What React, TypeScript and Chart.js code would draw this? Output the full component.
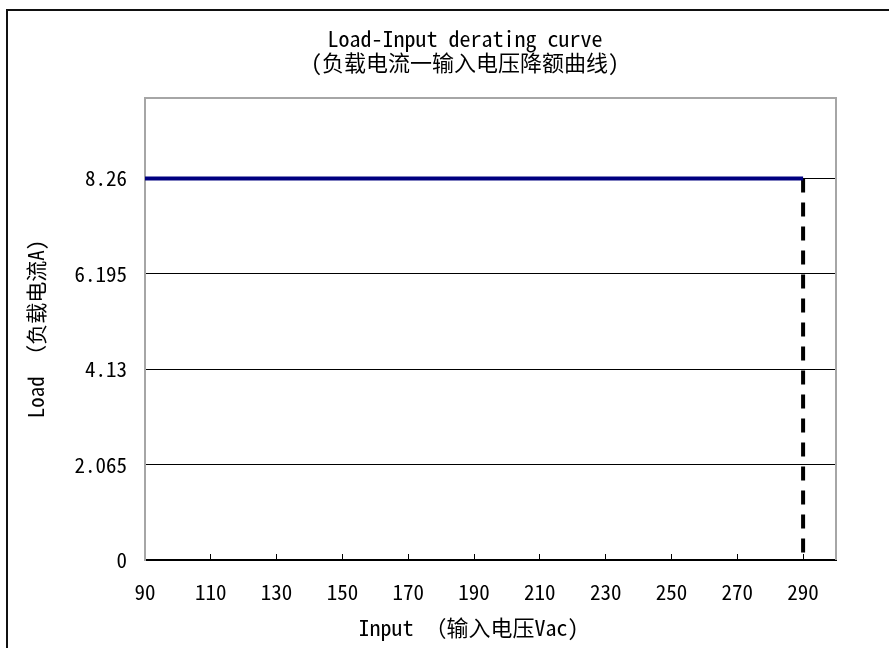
import { useEffect, useRef } from "react";
import { Chart, registerables } from "chart.js";

Chart.register(...registerables);

// ---- data ----
const inputVoltage = [90, 290];
const loadCurrent = [8.26, 8.26];
const cutoffVoltage = [290, 290];
const cutoffLoad = [8.26, 0];
const xTickValues = [90, 110, 130, 150, 170, 190, 210, 230, 250, 270, 290];
const yTickValues = [0, 2.065, 4.13, 6.195, 8.26];
const yTickLabels = ["0", "2.065", "4.13", "6.195", "8.26"];
const titleLines = ["Load-Input derating curve", "(负载电流一输入电压降额曲线)"];
const xTitle = "Input （输入电压Vac)    ";
const yTitle = "Load （负载电流A)";

const FONT = "'Noto Sans Mono CJK SC', 'Noto Sans CJK SC', monospace";
const W = 930;
const H = 680;

const framePlugin = {
  id: "frame",
  beforeDraw(chart: any) {
    const ctx = chart.ctx;
    ctx.save();
    ctx.fillStyle = "#ffffff";
    ctx.fillRect(0, 0, chart.width, chart.height);
    ctx.strokeStyle = "#111111";
    ctx.lineWidth = 2;
    ctx.strokeRect(7, 10, chart.width + 20, chart.height + 20);
    ctx.restore();
  },
  afterDatasetsDraw(chart: any) {
    const { ctx, chartArea } = chart;
    ctx.save();
    ctx.strokeStyle = "#a6a6a6";
    ctx.lineWidth = 2;
    ctx.beginPath();
    ctx.moveTo(chartArea.left, chartArea.top);
    ctx.lineTo(chartArea.right, chartArea.top);
    ctx.lineTo(chartArea.right, chartArea.bottom);
    ctx.stroke();
    ctx.restore();
  },
};

export default function App() {
  const ref = useRef<HTMLCanvasElement | null>(null);
  useEffect(() => {
    if (!ref.current) return;
    const chart = new Chart(ref.current, {
      type: "line",
      data: {
        datasets: [
          {
            data: inputVoltage.map((x, i) => ({ x, y: loadCurrent[i] })),
            borderColor: "#000080",
            borderWidth: 4,
            pointRadius: 0,
            yAxisID: "y",
          },
          {
            data: cutoffVoltage.map((x, i) => ({ x, y: cutoffLoad[i] })),
            borderColor: "#000000",
            borderWidth: 4,
            borderDash: [14, 10],
            pointRadius: 0,
            yAxisID: "y",
          },
        ],
      },
      options: {
        responsive: false,
        animation: false,
        devicePixelRatio: 1,
        layout: { padding: 0 },
        plugins: {
          legend: { display: false },
          tooltip: { enabled: false },
          title: {
            display: true,
            text: titleLines,
            color: "#000",
            font: { family: FONT, size: 22, weight: "normal", lineHeight: "24px" },
            padding: { top: 27, bottom: 23 },
          },
        },
        scales: {
          x: {
            type: "linear",
            min: 90,
            max: 300,
            afterBuildTicks: (s: any) => {
              s.ticks = xTickValues.map((v) => ({ value: v }));
            },
            afterFit: (s: any) => {
              s.height = 120;
            },
            ticks: {
              color: "#000",
              font: { family: FONT, size: 21 },
              padding: 25,
              maxRotation: 0,
              autoSkip: false,
            },
            grid: {
              drawOnChartArea: false,
              drawTicks: true,
              tickLength: -6,
              color: "#000",
              lineWidth: 1,
            },
            border: { color: "#000", width: 2 },
            title: {
              display: true,
              text: xTitle,
              color: "#000",
              font: { family: FONT, size: 22, lineHeight: "22px" },
              padding: { top: 0, bottom: 41 },
            },
          },
          y: {
            type: "linear",
            position: "left",
            min: 0,
            max: 10,
            afterBuildTicks: (s: any) => {
              s.ticks = yTickValues.map((v) => ({ value: v }));
            },
            afterFit: (s: any) => {
              s.width = 145;
            },
            ticks: {
              color: "#000",
              font: { family: FONT, size: 21 },
              padding: 18,
              autoSkip: false,
              callback: (v: any) => {
                const i = yTickValues.indexOf(Number(v));
                return i >= 0 ? yTickLabels[i] : "";
              },
            },
            grid: {
              drawTicks: false,
              color: "#000",
              lineWidth: 1,
            },
            border: { color: "#a6a6a6", width: 2 },
            title: {
              display: true,
              text: yTitle,
              color: "#000",
              font: { family: FONT, size: 21, lineHeight: "22px" },
              padding: { top: 25, bottom: 0 },
            },
          },
          yRight: {
            type: "linear",
            position: "right",
            min: 0,
            max: 1,
            afterFit: (s: any) => {
              s.width = 94;
            },
            ticks: { display: false },
            grid: { display: false, drawTicks: false },
            border: { display: false },
          },
        },
      },
      plugins: [framePlugin],
    } as any);
    return () => chart.destroy();
  }, []);
  return (
    <div
      style={{
        position: "absolute",
        left: 0,
        top: 0,
        width: 889,
        height: 648,
        overflow: "hidden",
        background: "#fff",
      }}
    >
      <canvas ref={ref} width={W} height={H} style={{ display: "block" }} />
    </div>
  );
}
